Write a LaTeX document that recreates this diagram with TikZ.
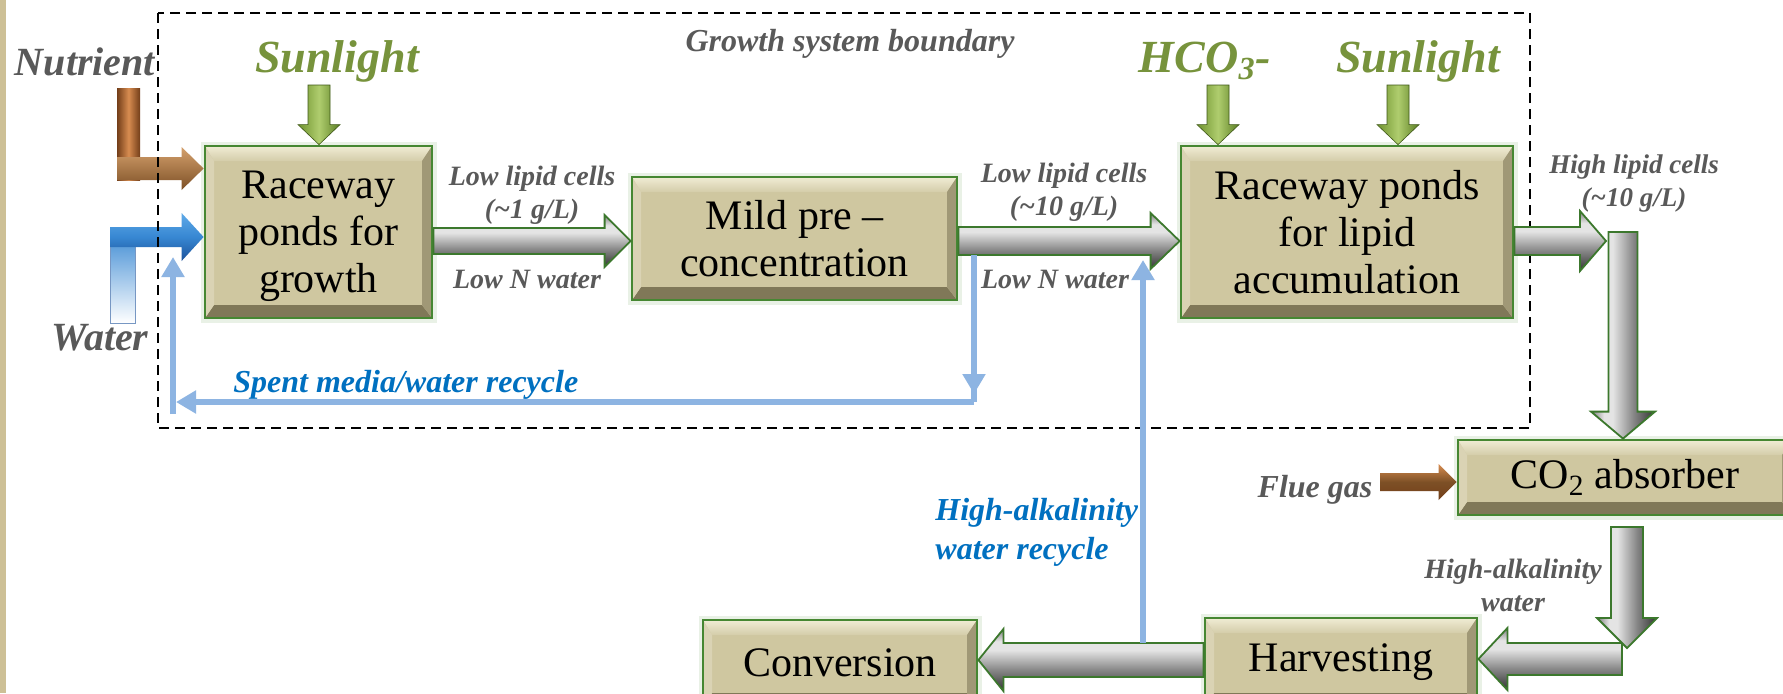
\documentclass[tikz,border=0pt]{standalone}
\usepackage{fontspec}
\setmainfont{Liberation Serif}
\usetikzlibrary{calc,arrows.meta}

\definecolor{boxfill}{RGB}{207,199,160}
\definecolor{boxline}{RGB}{70,135,50}
\definecolor{bevtop}{RGB}{240,236,212}
\definecolor{bevbot}{RGB}{128,120,88}
\definecolor{bevright}{RGB}{160,152,118}
\definecolor{bevleft}{RGB}{218,211,180}
\definecolor{labgray}{RGB}{89,89,89}
\definecolor{sungreen}{RGB}{119,147,60}
\definecolor{recblue}{RGB}{0,112,192}
\definecolor{lineblue}{RGB}{141,180,226}
\definecolor{arrgreen}{RGB}{60,120,45}
\definecolor{stripcol}{RGB}{205,192,150}
\definecolor{metdark}{RGB}{50,50,50}
\definecolor{metmid}{RGB}{135,135,135}
\definecolor{metlight}{RGB}{228,228,228}
\definecolor{mettop}{RGB}{125,125,125}
\definecolor{sunA}{RGB}{110,145,45}
\definecolor{sunB}{RGB}{175,205,110}
\definecolor{sunC}{RGB}{90,125,35}
\definecolor{brA}{RGB}{115,62,25}
\definecolor{brB}{RGB}{215,140,80}
\definecolor{brC}{RGB}{212,160,108}
\definecolor{brD}{RGB}{125,80,38}
\definecolor{wbA}{RGB}{95,170,232}
\definecolor{wbB}{RGB}{55,135,210}
\definecolor{wbC}{RGB}{28,82,155}

\pgfdeclareverticalshading{metal}{100bp}{color(0bp)=(metdark); color(25bp)=(metdark); color(42bp)=(metmid); color(58bp)=(metlight); color(65bp)=(metlight); color(75bp)=(mettop); color(100bp)=(mettop)}

% block arrow: #1 from, #2 tip, #3 shaft half width, #4 head half width, #5 head length, #6 style
\newcommand{\barrow}[6]{%
  \coordinate (bam) at ($(#2)!#5!(#1)$);
  \path[#6] ($(#1)!#3!90:(#2)$) -- ($(bam)!#3!90:(#2)$) -- ($(bam)!#4!90:(#2)$) -- (#2)
     -- ($(bam)!#4!-90:(#2)$) -- ($(bam)!#3!-90:(#2)$) -- ($(#1)!#3!-90:(#2)$) -- cycle;
}

\tikzset{
  procbox/.style={draw=boxline, line width=1.4pt, fill=boxfill, inner sep=0pt, align=center,
    font=\fontsize{21}{23.5}\selectfont,
    preaction={draw=boxline!12, line width=4.5pt},
    path picture={
      \coordinate (ppNW) at (path picture bounding box.north west);
      \coordinate (ppSE) at (path picture bounding box.south east);
      \coordinate (ppNE) at (ppNW -| ppSE);
      \coordinate (ppSW) at (ppNW |- ppSE);
      \shade[top color=bevtop, bottom color=boxfill!90!white] (ppNW) -- (ppNE) -- ($(ppNE)+(-5pt,-7.5pt)$) -- ($(ppNW)+(4.5pt,-7.5pt)$) -- cycle;
      \fill[bevbot] (ppSW) -- (ppSE) -- ($(ppSE)+(-5pt,6.5pt)$) -- ($(ppSW)+(4.5pt,6.5pt)$) -- cycle;
      \fill[bevleft] (ppNW) -- ($(ppNW)+(4.5pt,-7.5pt)$) -- ($(ppSW)+(4.5pt,6.5pt)$) -- (ppSW) -- cycle;
      \fill[bevright] (ppNE) -- ($(ppNE)+(-5pt,-7.5pt)$) -- ($(ppSE)+(-5pt,6.5pt)$) -- (ppSE) -- cycle;
    }},
  metalh/.style={draw=arrgreen, line width=0.9pt, shade, shading=metal},
  metalv/.style={draw=arrgreen, line width=0.9pt, shade, shading=metal, shading angle=90},
  sunarrow/.style={draw=sunC!70!black, line width=0.3pt, left color=sunA, right color=sunC, middle color=sunB},
  nutv/.style={left color=brA, right color=brA, middle color=brB},
  nuth/.style={top color=brC, bottom color=brD},
  watv/.style={top color=wbB, bottom color=white, draw=wbC!60, line width=0.4pt},
  wath/.style={top color=wbA, bottom color=wbC, middle color=wbB},
  flue/.style={top color=brB, bottom color=brA, middle color=brD},
  boundary/.style={draw=black, line width=0.8pt, dash pattern=on 5pt off 3pt},
  bline/.style={draw=lineblue, line width=2.6pt},
  btip/.style={-{Triangle[width=11pt,length=10pt]}},
  lab/.style={text=labgray, inner sep=0pt, align=center},
  fa/.style={font=\bfseries\itshape\fontsize{14}{16.5}\selectfont},
}

\begin{document}
\begin{tikzpicture}[x=0.5pt,y=-0.5pt]
\clip (0,0) rectangle (1783,693);
\fill[white] (0,0) rectangle (1783,693);
\fill[stripcol] (0,0) rectangle (6,693);

% boxes
\node[procbox, minimum width=113.5pt, minimum height=86pt] (rg) at (318.5,232)
  {Raceway\\ponds for\\\raisebox{0pt}[\height][0pt]{growth}};
\node[procbox, minimum width=162.5pt, minimum height=61.5pt] (mild) at (794.5,238.5)
  {Mild pre –\\concentration};
\node[procbox, minimum width=166pt, minimum height=86pt] (lip) at (1347,232)
  {Raceway ponds\\for lipid\\accumulation};
\node[procbox, minimum width=167pt, minimum height=37.5pt] (co2) at (1625,477.5)
  {CO\textsubscript{2} absorber};
\node[procbox, minimum width=136pt, minimum height=44pt] (harv) at (1341,662)
  {Harvesting};
\node[procbox, minimum width=137pt, minimum height=43pt] (conv) at (840,663)
  {Conversion};

% input arrows (nutrient, water)
\coordinate (n0) at (117,168.5);
\shade[nutv] (117,88) rectangle (140,180);
\barrow{n0}{rg.west |- n0}{5.75pt}{10.75pt}{11pt}{nuth}
\coordinate (w0) at (110,237);
\path[watv] (110,323) rectangle (135,228);
\barrow{w0}{rg.west |- w0}{5pt}{12pt}{11pt}{wath}

% boundary
\draw[boundary] (158,13) rectangle (1530,428);

% sunlight / HCO3 arrows
\coordinate (s1) at (319,85);
\coordinate (s2) at (1218,85);
\coordinate (s3) at (1398,85);
\barrow{s1}{rg.north -| s1}{5.5pt}{10.5pt}{10pt}{sunarrow}
\barrow{s2}{lip.north -| s2}{5.5pt}{10.5pt}{10pt}{sunarrow}
\barrow{s3}{lip.north -| s3}{5.5pt}{10.5pt}{10pt}{sunarrow}

% flue gas arrow
\coordinate (fg) at (1380,482);
\barrow{fg}{co2.west |- fg}{4.5pt}{9pt}{9pt}{flue}

% process arrows
\coordinate (yA) at (0,241);
\barrow{rg.east |- yA}{mild.west |- yA}{6.5pt}{13pt}{13pt}{metalh}
\barrow{mild.east |- yA}{lip.west |- yA}{7pt}{14pt}{14.5pt}{metalh}
\coordinate (c3) at (1606,241);
\barrow{lip.east |- yA}{c3}{7pt}{15pt}{13pt}{metalh}
\coordinate (c3v) at (1623,232);
\barrow{c3v}{co2.north -| c3v}{7.25pt}{16pt}{13.5pt}{metalv}
\coordinate (c4h) at (1622,659);
\barrow{c4h}{harv.east |- c4h}{8pt}{15.5pt}{14.5pt}{metalh}
\coordinate (c4) at (1627,527);
\coordinate (c4t) at (1627,648);
\barrow{c4}{c4t}{8pt}{15pt}{15pt}{metalv}
\coordinate (c5) at (0,660);
\barrow{harv.west |- c5}{conv.east |- c5}{8.5pt}{15.5pt}{12.5pt}{metalh}

% blue recycle lines
\coordinate (b1) at (974,255);
\coordinate (b1t) at (974,394);
\coordinate (b2) at (974,402);
\coordinate (b3) at (176,402);
\coordinate (b4s) at (173,414);
\coordinate (b4) at (173,257);
\draw[bline] (b1) -- (b2);
\draw[bline, btip] (b1) -- (b1t);
\draw[bline, btip] (b2) -- (b3);
\draw[bline, btip] (b4s) -- (b4);
\coordinate (r1) at (1143,643);
\coordinate (r2) at (1143,260);
\draw[bline, btip] (r1) -- (r2);

% labels (multi-line nodes: base = baseline of last line)
\node[lab, font=\bfseries\itshape\fontsize{20}{24}\selectfont, anchor=base] (tnut) at (85,75) {Nutrient};
\node[lab, font=\bfseries\itshape\fontsize{20}{24}\selectfont, anchor=base] (twat) at (100,350) {Water};
\node[lab, text=sungreen, font=\bfseries\itshape\fontsize{23}{27}\selectfont, anchor=base] (tsun1) at (337,72) {Sunlight};
\node[lab, text=sungreen, font=\bfseries\itshape\fontsize{23}{27}\selectfont, anchor=base] (thco) at (1205,72) {HCO\textsubscript{3}-};
\node[lab, text=sungreen, font=\bfseries\itshape\fontsize{23}{27}\selectfont, anchor=base] (tsun2) at (1418,72) {Sunlight};
\node[lab, font=\bfseries\itshape\fontsize{16}{19}\selectfont, anchor=base] (tgsb) at (850,51) {Growth system boundary};
\node[lab, fa, anchor=base] (tll1) at (532,218) {Low lipid cells\\(\textasciitilde1 g/L)};
\node[lab, fa, anchor=base] (tln1) at (527,288) {Low N water};
\node[lab, fa, anchor=base] (tll2) at (1064,215) {Low lipid cells\\(\textasciitilde10 g/L)};
\node[lab, fa, anchor=base] (tln2) at (1055,288) {Low N water};
\node[lab, font=\bfseries\itshape\fontsize{13.5}{16.5}\selectfont, anchor=base] (thl) at (1634,206) {High lipid cells\\(\textasciitilde10 g/L)};
\node[lab, text=recblue, font=\bfseries\itshape\fontsize{16}{19}\selectfont, anchor=base west] (tsp) at (233,392) {Spent media/water recycle};
\node[lab, text=recblue, align=left, font=\bfseries\itshape\fontsize{16}{19.5}\selectfont, anchor=base west] (thaw) at (935,559) {High-alkalinity\\water recycle};
\node[lab, font=\bfseries\itshape\fontsize{16}{19}\selectfont, anchor=base] (tflue) at (1315,497) {Flue gas};
\node[lab, fa, anchor=base] (tha) at (1513,611) {High-alkalinity\\water};
\end{tikzpicture}
\end{document}
